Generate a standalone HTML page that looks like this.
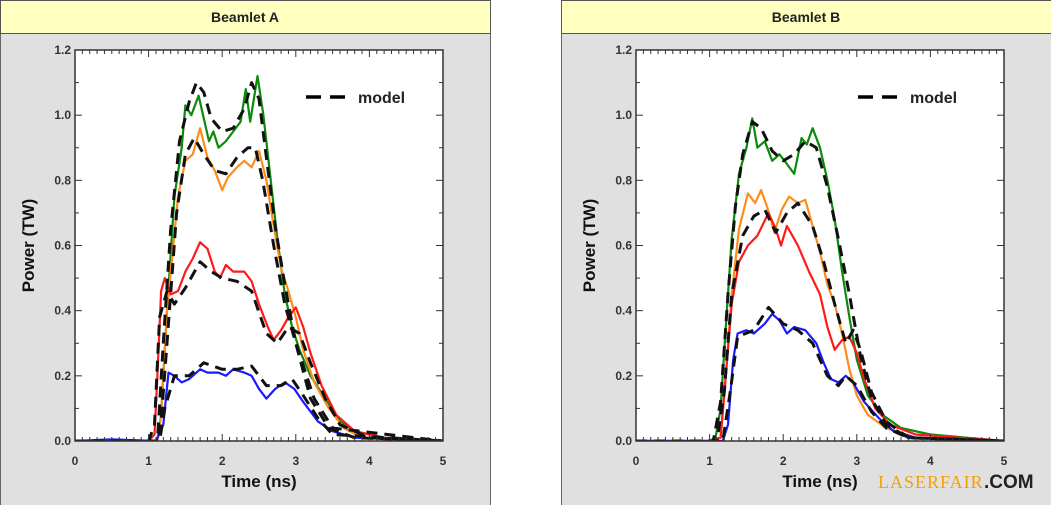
<!DOCTYPE html>
<html><head><meta charset="utf-8"><style>
body{margin:0;width:1051px;height:505px;background:#fff;overflow:hidden;font-family:"Liberation Sans",Arial,sans-serif}
svg{position:absolute;left:0;top:0}
</style></head><body>
<svg id="s" width="1051" height="505" xmlns="http://www.w3.org/2000/svg"></svg>
<script>
const s=document.getElementById('s');let h='';
function panel(px,title,legX,legY,data){
  const X0=px+75,X1=px+443,Y0=441,Y1=50;
  const fx=t=>X0+t*(X1-X0)/5, fy=p=>Y0-p*(Y0-Y1)/1.2;
  h+=`<rect x="${px+0.5}" y="0.5" width="490" height="510" fill="#e0e0e0" stroke="#666"/>`;
  h+=`<rect x="${px+0.5}" y="0.5" width="490" height="33" fill="#ffffc0" stroke="#555"/>`;
  h+=`<text x="${px+245}" y="22" font-size="14" font-weight="bold" text-anchor="middle" fill="#222">${title}</text>`;
  h+=`<rect x="${X0}" y="${Y1}" width="${X1-X0}" height="${Y0-Y1}" fill="#fff"/>`;
  h+=`<defs><clipPath id="c${px}"><rect x="${X0}" y="${Y1}" width="${X1-X0}" height="${Y0-Y1}"/></clipPath></defs><g clip-path="url(#c${px})">`;
  for(const [c,pts,dash] of data){
    const d=pts.map((p,i)=>(i?'L':'M')+fx(p[0]).toFixed(1)+' '+fy(p[1]).toFixed(1)).join('');
    h+=`<path d="${d}" fill="none" stroke="${c}" stroke-width="${dash?3:2.2}" ${dash?'stroke-dasharray="11 7"':''} stroke-linejoin="round"/>`;
  }
  h+=`</g><rect x="${X0}" y="${Y1}" width="${X1-X0}" height="${Y0-Y1}" fill="none" stroke="#333" stroke-width="1.5"/>`;
  for(let i=0;i<=50;i++){const x=fx(i/10),L=i%10==0?7:4;h+=`<line x1="${x}" y1="${Y0}" x2="${x}" y2="${Y0-L}" stroke="#333"/><line x1="${x}" y1="${Y1}" x2="${x}" y2="${Y1+L}" stroke="#333"/>`;}
  for(let i=0;i<=12;i++){const y=fy(i/10),L=i%2==0?7:4;h+=`<line x1="${X0}" y1="${y}" x2="${X0+L}" y2="${y}" stroke="#333"/><line x1="${X1}" y1="${y}" x2="${X1-L}" y2="${y}" stroke="#333"/>`;}
  for(let i=0;i<=5;i++)h+=`<text x="${fx(i)}" y="465" font-size="12" font-weight="bold" text-anchor="middle" fill="#333">${i}</text>`;
  for(let i=0;i<=6;i++)h+=`<text x="${X0-4}" y="${fy(i*0.2)+4}" font-size="12" font-weight="bold" text-anchor="end" fill="#333">${(i*0.2).toFixed(1)}</text>`;
  h+=`<text x="${(X0+X1)/2}" y="487" font-size="17" font-weight="bold" text-anchor="middle" fill="#111">Time (ns)</text>`;
  h+=`<text transform="translate(${px+34},${(Y0+Y1)/2}) rotate(-90)" font-size="17" font-weight="bold" text-anchor="middle" fill="#111">Power (TW)</text>`;
  h+=`<line x1="${legX}" y1="${legY}" x2="${legX+42}" y2="${legY}" stroke="#000" stroke-width="3.5" stroke-dasharray="15 9"/>`;
  h+=`<text x="${legX+52}" y="${legY+6}" font-size="16" font-weight="bold" fill="#222">model</text>`;
}
const z=[[0,0],[1,0]];
const A=[
['#0b8a0b',[...z,[1.12,0],[1.17,0.08],[1.25,0.4],[1.35,0.75],[1.45,0.9],[1.5,1.03],[1.58,1.0],[1.68,1.06],[1.75,0.99],[1.82,0.92],[1.88,0.95],[1.95,0.9],[2.05,0.92],[2.15,0.95],[2.25,0.98],[2.32,1.08],[2.38,0.98],[2.48,1.12],[2.56,1.0],[2.65,0.82],[2.75,0.62],[2.85,0.45],[2.95,0.35],[3.05,0.28],[3.2,0.2],[3.4,0.13],[3.6,0.06],[3.8,0.03],[4.2,0.01],[5,0]]],
['#ff8c1a',[...z,[1.12,0],[1.17,0.08],[1.25,0.4],[1.4,0.75],[1.5,0.86],[1.6,0.88],[1.7,0.96],[1.8,0.87],[1.9,0.83],[2.0,0.77],[2.08,0.81],[2.2,0.84],[2.3,0.86],[2.4,0.84],[2.5,0.89],[2.6,0.8],[2.7,0.66],[2.8,0.53],[2.9,0.46],[3.0,0.38],[3.1,0.28],[3.25,0.18],[3.45,0.1],[3.65,0.04],[3.9,0.01],[5,0]]],
['#ff1a1a',[...z,[1.08,0.02],[1.12,0.2],[1.17,0.46],[1.22,0.5],[1.3,0.45],[1.4,0.46],[1.5,0.52],[1.6,0.56],[1.7,0.61],[1.8,0.59],[1.9,0.52],[1.97,0.5],[2.05,0.54],[2.15,0.52],[2.3,0.52],[2.4,0.49],[2.5,0.42],[2.62,0.35],[2.7,0.31],[2.8,0.34],[2.9,0.38],[3.0,0.41],[3.1,0.35],[3.2,0.27],[3.35,0.17],[3.55,0.08],[3.8,0.03],[4.2,0.01],[5,0]]],
['#1a1aff',[[0,0],[0.5,0.005],[1.1,0],[1.2,0.05],[1.27,0.21],[1.35,0.2],[1.45,0.18],[1.55,0.19],[1.7,0.22],[1.8,0.21],[1.95,0.21],[2.05,0.2],[2.15,0.22],[2.3,0.21],[2.4,0.2],[2.5,0.16],[2.6,0.13],[2.72,0.16],[2.85,0.18],[2.98,0.16],[3.1,0.12],[3.3,0.06],[3.5,0.03],[3.8,0.01],[5,0]]],
['#111',[...z,[1.12,0],[1.2,0.3],[1.3,0.65],[1.42,0.92],[1.55,1.04],[1.65,1.1],[1.75,1.07],[1.85,0.99],[2.0,0.95],[2.15,0.96],[2.3,1.02],[2.4,1.1],[2.5,1.05],[2.6,0.87],[2.72,0.66],[2.85,0.48],[3.0,0.3],[3.2,0.13],[3.45,0.04],[3.8,0.01],[5,0]],1],
['#111',[...z,[1.15,0],[1.25,0.3],[1.38,0.7],[1.5,0.88],[1.62,0.93],[1.75,0.88],[1.9,0.83],[2.05,0.82],[2.2,0.87],[2.35,0.9],[2.45,0.9],[2.55,0.8],[2.7,0.6],[2.85,0.42],[3.0,0.3],[3.25,0.13],[3.5,0.04],[5,0]],1],
['#111',[...z,[1.08,0.05],[1.15,0.38],[1.25,0.46],[1.35,0.42],[1.5,0.47],[1.7,0.55],[1.85,0.52],[2.0,0.5],[2.2,0.49],[2.4,0.46],[2.6,0.33],[2.75,0.3],[2.9,0.35],[3.05,0.33],[3.2,0.24],[3.4,0.13],[3.6,0.05],[4,0.01],[5,0]],1],
['#111',[...z,[1.15,0],[1.22,0.1],[1.35,0.2],[1.55,0.2],[1.75,0.24],[2.0,0.22],[2.2,0.22],[2.4,0.23],[2.6,0.17],[2.8,0.17],[2.95,0.19],[3.1,0.14],[3.3,0.07],[3.5,0.02],[5,0]],1]
];
const B=[
['#0b8a0b',[...z,[1.08,0.01],[1.15,0.1],[1.22,0.35],[1.3,0.62],[1.4,0.82],[1.5,0.9],[1.58,0.99],[1.65,0.9],[1.75,0.92],[1.85,0.86],[1.95,0.88],[2.05,0.85],[2.15,0.82],[2.25,0.93],[2.32,0.91],[2.4,0.96],[2.5,0.9],[2.6,0.8],[2.7,0.68],[2.8,0.52],[2.9,0.38],[3.0,0.25],[3.15,0.14],[3.35,0.08],[3.6,0.04],[4.0,0.02],[4.5,0.01],[5,0]]],
['#ff8c1a',[...z,[1.15,0.01],[1.22,0.2],[1.3,0.45],[1.4,0.65],[1.52,0.76],[1.62,0.73],[1.7,0.77],[1.78,0.72],[1.88,0.64],[1.98,0.71],[2.08,0.75],[2.2,0.73],[2.3,0.74],[2.4,0.66],[2.5,0.58],[2.6,0.48],[2.7,0.42],[2.8,0.33],[2.9,0.22],[3.0,0.14],[3.15,0.08],[3.4,0.04],[3.8,0.01],[5,0]]],
['#ff1a1a',[...z,[1.15,0.01],[1.22,0.2],[1.3,0.42],[1.4,0.55],[1.52,0.6],[1.65,0.63],[1.8,0.7],[1.9,0.65],[1.97,0.6],[2.05,0.66],[2.2,0.6],[2.35,0.52],[2.5,0.45],[2.6,0.35],[2.7,0.28],[2.8,0.31],[2.9,0.32],[3.0,0.27],[3.1,0.19],[3.25,0.1],[3.45,0.05],[3.8,0.02],[5,0]]],
['#1a1aff',[[0,0],[1.18,0],[1.25,0.05],[1.32,0.25],[1.38,0.33],[1.5,0.34],[1.6,0.33],[1.75,0.36],[1.85,0.39],[1.95,0.37],[2.05,0.33],[2.15,0.35],[2.3,0.34],[2.45,0.3],[2.55,0.24],[2.65,0.19],[2.75,0.18],[2.85,0.2],[2.95,0.18],[3.1,0.12],[3.3,0.07],[3.5,0.03],[3.8,0.01],[5,0]]],
['#111',[...z,[1.05,0],[1.15,0.12],[1.25,0.45],[1.35,0.72],[1.45,0.88],[1.58,0.98],[1.7,0.96],[1.85,0.89],[2.0,0.86],[2.15,0.88],[2.3,0.92],[2.45,0.9],[2.6,0.78],[2.75,0.62],[2.9,0.45],[3.05,0.26],[3.2,0.13],[3.4,0.05],[3.7,0.01],[5,0]],1],
['#111',[...z,[1.1,0],[1.2,0.15],[1.3,0.45],[1.45,0.63],[1.6,0.69],[1.75,0.71],[1.9,0.64],[2.05,0.7],[2.2,0.73],[2.4,0.66],[2.55,0.55],[2.7,0.42],[2.85,0.3],[2.95,0.34],[3.05,0.28],[3.2,0.15],[3.4,0.06],[3.7,0.01],[5,0]],1],
['#111',[...z,[1.18,0],[1.28,0.15],[1.38,0.32],[1.6,0.34],[1.8,0.41],[2.0,0.36],[2.2,0.34],[2.4,0.3],[2.6,0.2],[2.75,0.17],[2.85,0.2],[3.0,0.17],[3.2,0.09],[3.4,0.04],[3.7,0.01],[5,0]],1]
];
panel(0,'Beamlet A',306,97,A);
panel(561,'Beamlet B',858,97,B);
h+=`<text x="878" y="488" font-family="Liberation Serif,serif" font-size="18" fill="#f5a000" letter-spacing="1">LASERFAIR</text><text x="984" y="488" font-size="19" font-weight="bold" fill="#222">.COM</text>`;
s.innerHTML=h;
</script>
</body></html>
